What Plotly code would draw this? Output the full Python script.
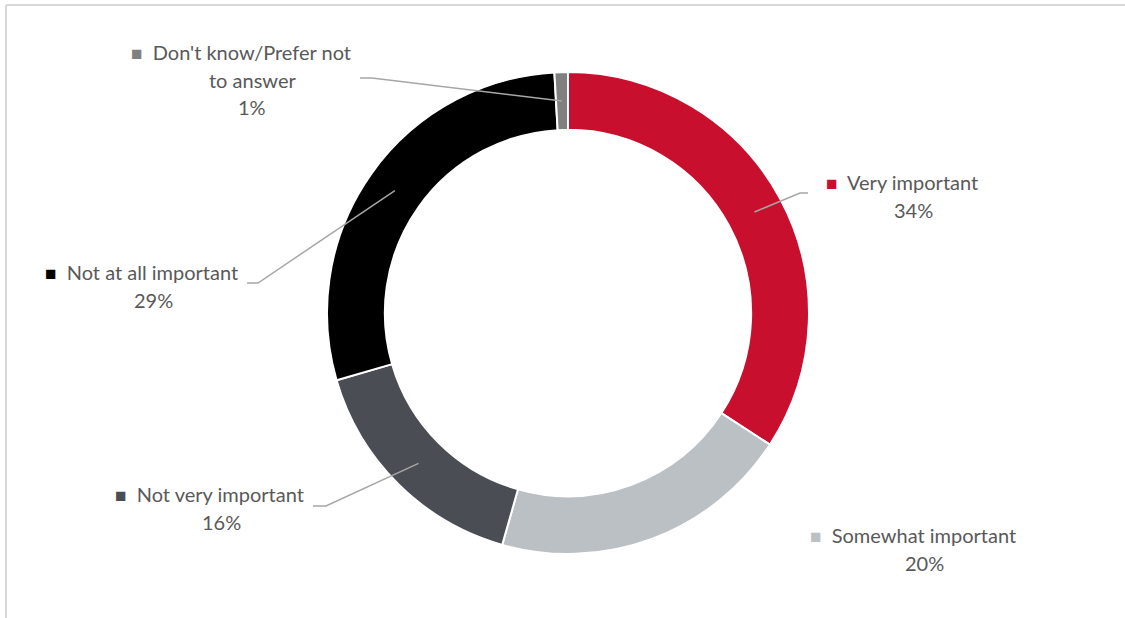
import plotly.graph_objects as go
import math

# ---- data ----
categories = ["Very important", "Somewhat important", "Not very important",
              "Not at all important", "Don't know/Prefer not to answer"]
values = [34.2, 20.2, 16.1, 28.6, 0.9]
colors = ["#C8102E", "#BBC0C4", "#4B4D54", "#000000", "#808080"]
# label text lines (first line carries the legend key)
label_lines = [["Very important"], ["Somewhat important"], ["Not very important"],
               ["Not at all important"], ["Don't know/Prefer not", "to answer"]]

# ---- layout constants (pixels) ----
W, H = 1125, 618
CX, CY, R = 568, 313, 241
HOLE = 0.76
TEXT_COLOR = "#595959"
FONT = "Lato"
FS = 20
LINE_H = 27.5
KEY_SHIFT = 11.5

# label block positions: (text center x, first line center y)
label_pos = [(913, 182), (924, 535), (221, 494), (153, 272), (252, 52)]
# leader lines: (elbow, end) or None
leaders = [((800, 193), (808, 193)), None, ((326, 506), (313, 506)),
           ((258, 283), (247, 283)), ((372, 78), (360, 78))]

fig = go.Figure()
fig.add_trace(go.Pie(
    labels=categories, values=values, sort=False, direction="clockwise",
    rotation=0, hole=HOLE, textinfo="none", hoverinfo="skip", showlegend=False,
    marker=dict(colors=colors, line=dict(color="white", width=2)),
    domain=dict(x=[(CX - R) / W, (CX + R) / W], y=[1 - (CY + R) / H, 1 - (CY - R) / H]),
))
# invisible pixel axes for annotations and shapes
fig.add_trace(go.Scatter(x=[0, W], y=[0, H], mode="markers", marker=dict(opacity=0),
                         hoverinfo="skip", showlegend=False))

total = sum(values)
r_mid = R * (1 + HOLE) / 2
cum = 0
shapes = []
annotations = []
for i, (cat, v) in enumerate(zip(categories, values)):
    mid = (cum + v / 2) / total * 2 * math.pi
    cum += v
    ax = CX + r_mid * math.sin(mid)
    ay = CY - r_mid * math.cos(mid)
    if leaders[i] is not None:
        (ex, ey), (fx, fy) = leaders[i]
        shapes.append(dict(type="path", xref="x", yref="y",
                           path=f"M {ax},{ay} L {ex},{ey} L {fx},{fy}",
                           line=dict(color="#A6A6A6", width=1.5)))
    tx, ty = label_pos[i]
    lines = label_lines[i]
    for j, ln in enumerate(lines):
        if j == 0:
            txt = (f"<span style='color:{colors[i]};font-size:19px'>■</span>"
                   f"\u00a0\u00a0{ln}")
            xs = -KEY_SHIFT
        else:
            txt = ln
            xs = 0
        annotations.append(dict(x=tx, y=ty + j * LINE_H, xref="x", yref="y", text=txt,
                                showarrow=False, xanchor="center", yanchor="middle",
                                xshift=xs, font=dict(family=FONT, size=FS, color=TEXT_COLOR)))
    pct = round(v / total * 100)
    annotations.append(dict(x=tx, y=ty + len(lines) * LINE_H, xref="x", yref="y",
                            text=f"{pct}%", showarrow=False, xanchor="center", yanchor="middle",
                            font=dict(family=FONT, size=FS, color=TEXT_COLOR)))

# chart frame (top and left edges visible)
shapes.append(dict(type="line", xref="x", yref="y", x0=6, y0=5, x1=W, y1=5,
                   line=dict(color="#D9D9D9", width=2)))
shapes.append(dict(type="line", xref="x", yref="y", x0=6, y0=5, x1=6, y1=H,
                   line=dict(color="#D9D9D9", width=2)))

fig.update_layout(
    width=W, height=H, margin=dict(l=0, r=0, t=0, b=0),
    paper_bgcolor="white", plot_bgcolor="rgba(0,0,0,0)",
    xaxis=dict(range=[0, W], visible=False, fixedrange=True),
    yaxis=dict(range=[H, 0], visible=False, fixedrange=True),
    shapes=shapes, annotations=annotations,
)
fig.write_html("out.html", post_script="document.body.style.margin='0';",
               config={"displayModeBar": False})
